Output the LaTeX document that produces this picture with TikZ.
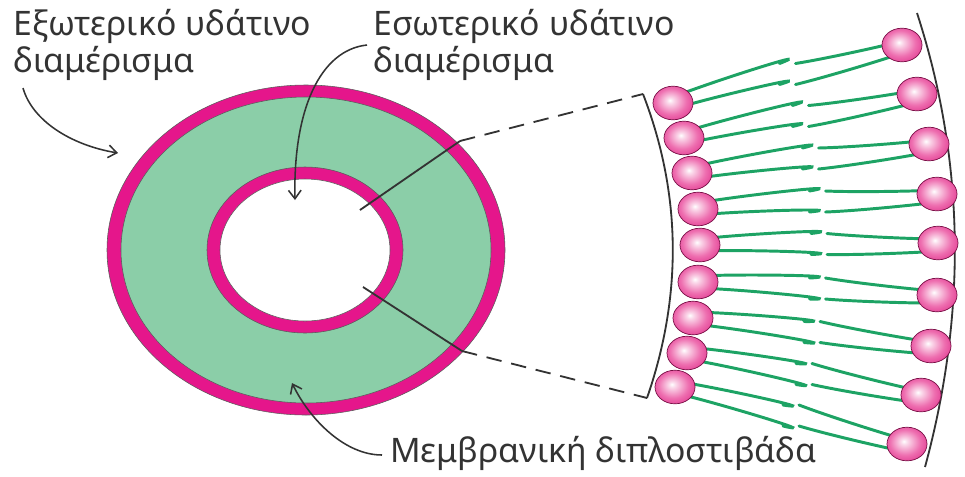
\documentclass[tikz,border=0pt]{standalone}
\usepackage{fontspec}
\setmainfont{Noto Sans}
\usetikzlibrary{arrows.meta,calc,shapes.geometric,backgrounds}
\usepackage{xcolor}
\definecolor{Ring}{HTML}{E5168B}
\definecolor{Lumen}{HTML}{8BCEA8}
\definecolor{Tail}{HTML}{1DA364}
\definecolor{HeadEdge}{HTML}{DA1A7E}
\definecolor{HeadMid}{HTML}{EE6FB0}
\definecolor{Ink}{HTML}{333333}
\pgfdeclareradialshading{headball}{\pgfpoint{-4bp}{4bp}}{%
  color(0bp)=(white); color(4bp)=(white!75!HeadMid);
  color(19bp)=(HeadMid); color(38bp)=(HeadEdge); color(50bp)=(HeadEdge)}

\begin{document}
\begin{tikzpicture}[x=0.025cm,y=-0.025cm,line join=round,
    lbl/.style={font=\fontsize{24}{26.2}\selectfont,text=Ink,inner sep=0pt,align=left},
    pointer/.style={Ink,line width=1.1pt,-{Straight Barb[length=6pt,width=9pt]}},
    cut/.style={Ink,line width=1.3pt},
    tail/.style={Tail,line width=2.1pt,line cap=round},
    head/.style={ellipse,draw=HeadEdge!55!black,line width=0.5pt,shading=headball,
      minimum width=1cm,minimum height=0.84cm,inner sep=0pt}]
    \useasboundingbox (0,0) rectangle (965,476);

    % vesicle seen in section
    \filldraw[fill=Ring,draw=Ink!80,line width=0.4pt] (306,250) ellipse [x radius=199,y radius=165];
    \filldraw[fill=Lumen,draw=Ink!80,line width=0.4pt] (306,250) ellipse [x radius=185,y radius=153];
    \filldraw[fill=Ring,draw=Ink!80,line width=0.4pt] (305,250) ellipse [x radius=98,y radius=83];
    \filldraw[fill=white,draw=Ink!80,line width=0.4pt] (305,250) ellipse [x radius=85,y radius=71];

    % enlarged piece of the bilayer
    \coordinate (cutA) at (360,210);
    \coordinate (kinkA) at (460,141);
    \coordinate (zoomA) at (643,94);
    \coordinate (zoomB) at (647,398);
    \coordinate (kinkB) at (462,351);
    \coordinate (cutB) at (363,287);
    \coordinate (outA) at (917,13);
    \coordinate (outB) at (925,467);
    \draw[cut] (cutA) -- (kinkA);
    \draw[cut] (cutB) -- (kinkB);
    \draw[cut,dash pattern=on 11pt off 7pt] (kinkA) -- (zoomA);
    \draw[cut,dash pattern=on 11pt off 7pt] (kinkB) -- (zoomB);
    \draw[cut] (zoomA) .. controls (682,195) and (682,297) .. (zoomB);
    \draw[cut] (outA) .. controls (966,164) and (966,316) .. (outB);

    \foreach \i/\lx/\ly/\rx/\ry in {1/673/103/902/45,2/684/138/917/94,3/692/173/929/144,
        4/698/209/937/194,5/700/245/938/243,6/698/282/937/295,7/693/318/931/346,
        8/687/353/921/395,9/675/387/907/444}{
      \node[head] (L\i) at (\lx,\ly) {};
      \node[head] (R\i) at (\rx,\ry) {};
    }
    \begin{scope}[on background layer]
      \foreach \i in {1,...,9}{
        \coordinate (mid) at ($(L\i)!0.5!(R\i)$);
        \foreach \s in {-1,1}{
          \draw[tail] ($(L\i)+(0,6*\s)$) to[out=4,in=4,relative] ($(mid)+(-8,10.5*\s)$);
          \draw[tail] ($(mid)+(8,10.5*\s)$) to[out=-4,in=-4,relative] ($(R\i)+(0,6*\s)$);
        }
      }
    \end{scope}

    % labels
    \node[lbl,anchor=base west] (outlbl) at (13,72) {Εξωτερικό υδάτινο\\διαμέρισμα};
    \node[lbl,anchor=base west] (inlbl) at (373,72) {Εσωτερικό υδάτινο\\διαμέρισμα};
    \node[lbl,anchor=base west] (memlbl) at (390,462) {Μεμβρανική διπλοστιβάδα};

    \coordinate (outtip) at (118,153);
    \coordinate (intip) at (295,200);
    \coordinate (memtip) at (292,383);
    \draw[pointer] (23,88) .. controls (32,120) and (70,145) .. (outtip);
    \draw[pointer] (367,45) .. controls (320,50) and (293,110) .. (intip);
    \draw[pointer] (382,455) .. controls (345,455) and (310,420) .. (memtip);
  \end{tikzpicture}
\end{document}
